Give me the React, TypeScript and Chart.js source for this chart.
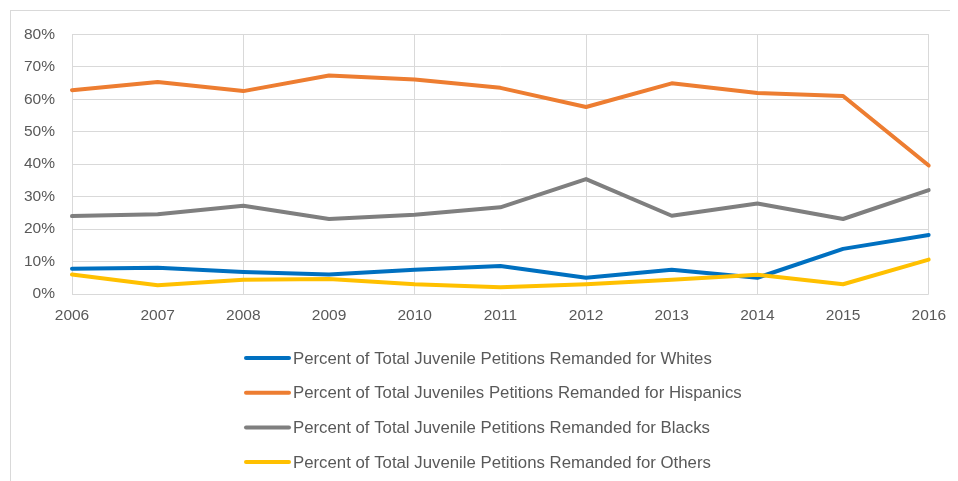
import React, { useEffect, useRef } from 'react';
import { Chart, registerables } from 'chart.js';

Chart.register(...registerables);

const years = ['2006', '2007', '2008', '2009', '2010', '2011', '2012', '2013', '2014', '2015', '2016'];
const whites = [7.8, 8.1, 6.8, 6.0, 7.5, 8.6, 5.0, 7.5, 5.0, 13.9, 18.2];
const hispanics = [62.8, 65.3, 62.5, 67.3, 66.1, 63.5, 57.6, 64.9, 61.9, 61.0, 39.6];
const blacks = [24.0, 24.6, 27.2, 23.1, 24.4, 26.7, 35.4, 24.1, 27.9, 23.1, 32.0];
const others = [6.0, 2.7, 4.4, 4.6, 3.0, 2.1, 3.0, 4.4, 5.9, 3.0, 10.6];

const seriesNames = [
  'Percent of Total Juvenile Petitions Remanded for Whites',
  'Percent of Total Juveniles Petitions Remanded for Hispanics',
  'Percent of Total Juvenile Petitions Remanded for Blacks',
  'Percent of Total Juvenile Petitions Remanded for Others',
];
const seriesColors = ['#0070C0', '#ED7D31', '#7F7F7F', '#FFC000'];

const FONT = "'Liberation Sans', Arial, sans-serif";
const TEXT = '#595959';
const GRID = '#D9D9D9';

const framePlugin = {
  id: 'frame',
  beforeDraw(chart: any) {
    const ctx = chart.ctx;
    ctx.save();
    ctx.fillStyle = '#ffffff';
    ctx.fillRect(0, 0, chart.width, chart.height);
    ctx.strokeStyle = GRID;
    ctx.lineWidth = 1;
    ctx.strokeRect(2.5, 2.5, chart.width + 20, chart.height + 20);
    ctx.restore();
  },
};

const legendPlugin = {
  id: 'customLegend',
  afterDraw(chart: any) {
    const ctx = chart.ctx;
    ctx.save();
    const x0 = 238;
    const x1 = 281;
    const tx = 285;
    const y0 = 350;
    const step = 34.7;
    chart.data.datasets.forEach((ds: any, i: number) => {
      const y = y0 + i * step;
      ctx.strokeStyle = ds.borderColor;
      ctx.lineWidth = 4;
      ctx.lineCap = 'round';
      ctx.beginPath();
      ctx.moveTo(x0, y);
      ctx.lineTo(x1, y);
      ctx.stroke();
      ctx.fillStyle = TEXT;
      ctx.font = `16.8px ${FONT}`;
      ctx.textBaseline = 'middle';
      ctx.textAlign = 'left';
      ctx.fillText(ds.label, tx, y + 1);
    });
    ctx.restore();
  },
};

export default function App() {
  const ref = useRef<HTMLCanvasElement>(null);
  useEffect(() => {
    document.body.style.overflow = 'hidden';
    const seriesData = [whites, hispanics, blacks, others];
    const chart = new Chart(ref.current!, {
      type: 'line',
      data: {
        labels: years,
        datasets: seriesData.map((d, i) => ({
          label: seriesNames[i],
          data: d,
          borderColor: seriesColors[i],
          backgroundColor: seriesColors[i],
          borderWidth: 4,
          pointRadius: 0,
          tension: 0,
          fill: false,
          order: 4 - i,
          borderCapStyle: 'round' as const,
          borderJoinStyle: 'round' as const,
        })),
      },
      options: {
        animation: false,
        responsive: true,
        maintainAspectRatio: false,
        layout: { padding: { top: 25, right: 29, left: 0, bottom: 147 } },
        plugins: {
          legend: { display: false },
          tooltip: { enabled: false },
        },
        scales: {
          x: {
            type: 'category',
            offset: false,
            grid: {
              color: (c: any) => (c.index % 2 === 0 ? GRID : 'rgba(0,0,0,0)'),
              lineWidth: 1,
              drawTicks: false,
            },
            border: { display: false },
            ticks: {
              color: TEXT,
              font: { family: FONT, size: 15.5 },
              padding: 12,
              maxRotation: 0,
              autoSkip: false,
            },
            afterFit: (s: any) => {
              s.height = 40;
            },
          },
          y: {
            min: 0,
            max: 80,
            grid: { color: GRID, lineWidth: 1, drawTicks: false },
            border: { display: false },
            ticks: {
              stepSize: 10,
              color: TEXT,
              font: { family: FONT, size: 15.5 },
              padding: 17,
              callback: (v: any) => `${v}%`,
            },
            afterFit: (s: any) => {
              s.width = 64;
            },
          },
        },
      },
      plugins: [framePlugin, legendPlugin],
    });
    return () => chart.destroy();
  }, []);
  return (
    <div style={{ width: 950, height: 473, position: 'relative' }}>
      <canvas ref={ref} />
    </div>
  );
}
